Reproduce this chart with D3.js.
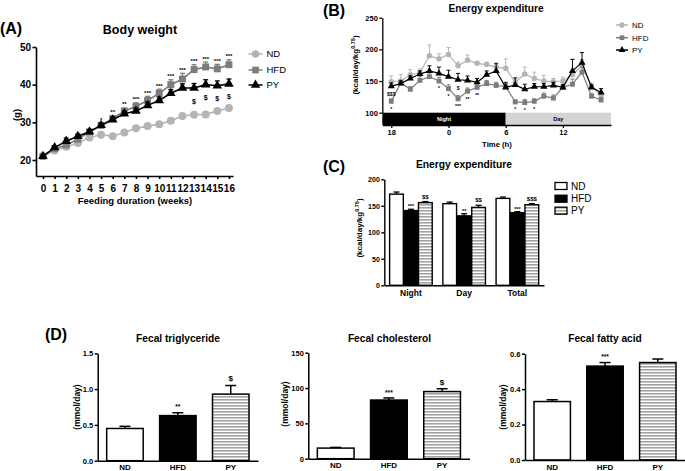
<!DOCTYPE html>
<html><head><meta charset="utf-8">
<script src="https://cdn.jsdelivr.net/npm/d3@7/dist/d3.min.js"></script>
<style>html,body{margin:0;padding:0;background:#fff;}svg{display:block}</style>
</head><body>
<svg id="chart" width="685" height="471"></svg>
<script>
// ================= DATA =================
const groups = ["ND", "HFD", "PY"];

// (A) Body weight
const weeks = [0,1,2,3,4,5,6,7,8,9,10,11,12,13,14,15,16];
const bwTicks = [20,30,40,50];
const bwND  = [21,22.5,23.5,24.5,26,26.7,26.3,27.3,28.4,29,29.5,30.4,31.7,32,32.1,33,33.8];
const bwHFD = [21,23,24,25.5,27.5,29.2,31,33,34.2,35.8,37.7,40,41.5,44,44.7,44.2,45.3];
const bwPY  = [21,23.3,25,26.3,27.5,29.2,30.7,32.3,33,34.5,35.8,37.7,39.1,39.1,40,39.7,40.2];
const bwErrND  = [0.2,0.3,0.3,0.4,0.3,0.3,0.3,0.3,0.3,0.3,0.3,0.3,0.3,0.3,0.3,0.3,0.4];
const bwErrHFD = [0.3,0.4,0.5,0.5,0.5,0.6,0.7,0.8,1.0,1.1,1.1,1.3,1.5,1.3,1.3,1.2,1.3];
const bwErrPY  = [0.3,0.4,0.8,0.6,0.5,0.6,0.7,0.7,0.8,0.9,0.9,1.0,1.1,1.2,1.3,1.3,1.3];
const bwSigHFD = ["","","","","","*","**","**","***","***","***","***","***","***","***","***","***"];
const bwSigPY  = ["","","","","","","","","","","","","","$","$","$","$"];

// (B) Energy expenditure time course
const hours = [18,19,20,21,22,23,0,1,2,3,4,5,6,7,8,9,10,11,12,13,14,15,16];
const eeHourTicks = [18,0,6,12];
const eeTicks = [100,150,200,250];
const eeND   = [149,150,160,163,190,185,192,174,183,178,176,172,170,148,161,154,150,149,150,160,174,141,127];
const eeHFD  = [118,147,137,151,157,150,138,122,134,140,146,143,141,117,116,118,126,123,140,145,164,126,120];
const eePY   = [142,146,154,161,166,162,157,152,151,148,160,166,140,144,137,141,141,143,140,166,179,140,132];
const eeErrND  = [9,10,8,6,17,8,11,6,8,3,4,4,15,5,11,10,9,5,6,25,10,6,5];
const eeErrHFD = [4,4,4,6,6,6,6,5,5,5,5,5,5,3,5,4,5,5,4,8,8,4,4];
const eeErrPY  = [5,4,4,5,8,10,10,10,7,6,6,12,8,11,8,5,5,5,4,18,16,4,6];
const eeSigHFD = ["*","","","","","*","*","***","**","**","","","","*","*","*","","","","","","",""];
const eeSigPY  = ["$$$","","","","","","","$","","","","","","","","","","","","","","",""];

// (C) Energy expenditure by period
const periods = ["Night","Day","Total"];
const eeBarTicks = [0,50,100,150,200];
const eeBarND  = [172,154,164];
const eeBarHFD = [141,131,137];
const eeBarPY  = [156,147,152];
const eeBarErrND  = [4,3,2.5];
const eeBarErrHFD = [2.5,4,2];
const eeBarErrPY  = [2,4,2];
const eeBarSigHFD = ["***","**","***"];
const eeBarSigPY  = ["$$","$$","$$$"];

// (D) Fecal lipids
const tgTicks = [0.0,0.5,1.0,1.5];
const tgValues = [0.45,0.63,0.93];
const tgErr    = [0.03,0.04,0.12];
const tgSig    = ["","**","$"];
const cholTicks = [0,50,100,150];
const cholValues = [15,83,95];
const cholErr    = [1,3,4];
const cholSig    = ["","***","$"];
const faTicks = [0.0,0.2,0.4,0.6];
const faValues = [0.33,0.53,0.55];
const faErr    = [0.01,0.02,0.02];
const faSig    = ["","***",""];

// ================= DRAWING =================
const F = "'Liberation Sans', Arial, Helvetica, sans-serif";
const C_ND = "#b4b4b4", C_HFD = "#7c7c7c", C_PY = "#000";
const svg = d3.select("#chart").attr("font-family", F);
const defs = svg.append("defs");
const pat = defs.append("pattern").attr("id","hatch").attr("patternUnits","userSpaceOnUse")
  .attr("width",4).attr("height",3);
pat.append("rect").attr("width",4).attr("height",3).attr("fill","#fff");
pat.append("rect").attr("width",4).attr("height",1.6).attr("fill","#a2a2a2");
const fills = {ND:"#fff", HFD:"#000", PY:"url(#hatch)"};

function T(g, x, y, s, fs, o = {}) {
  const t = g.append("text").attr("x", x).attr("y", y).attr("dy", o.dy || "0.35em")
    .attr("font-size", fs).attr("font-weight", o.w || "bold")
    .attr("text-anchor", o.a || "middle").attr("fill", o.c || "#000").text(s);
  if (o.rot) t.attr("transform", `rotate(-90,${x},${y})`);
  return t;
}
function sig(g, x, y, s, fs) { // y = visual center of mark
  if (!s) return;
  const star = s.indexOf("*") >= 0;
  g.append("text").attr("x", x).attr("y", y + (star ? 0.58 : 0.36) * fs)
    .attr("font-size", fs).attr("font-weight", "bold").attr("text-anchor", "middle").text(s);
}
function sty(sel, fs, sw) {
  sel.attr("font-family", F);
  sel.select(".domain").attr("stroke", "#000").attr("stroke-width", sw);
  sel.selectAll(".tick line").attr("stroke", "#000").attr("stroke-width", sw);
  sel.selectAll(".tick text").attr("font-size", fs).attr("font-weight", "bold").attr("fill", "#000");
}
function series(g, xs, ys, xv, vals, errs, color, sym, size, lw, capW) {
  vals.forEach((v, i) => {
    if (errs[i] > 0) {
      const x = xs(xv[i]), yt = ys(v + errs[i]);
      g.append("line").attr("x1", x).attr("x2", x).attr("y1", ys(v)).attr("y2", yt)
        .attr("stroke", color).attr("stroke-width", lw * 0.8);
      g.append("line").attr("x1", x - capW / 2).attr("x2", x + capW / 2).attr("y1", yt).attr("y2", yt)
        .attr("stroke", color).attr("stroke-width", lw * 0.8);
    }
  });
  g.append("path").datum(vals).attr("fill", "none").attr("stroke", color).attr("stroke-width", lw)
    .attr("d", d3.line().x((d, i) => xs(xv[i])).y(d => ys(d)));
  g.selectAll(null).data(vals).join("path")
    .attr("transform", (d, i) => `translate(${xs(xv[i])},${ys(d)})`)
    .attr("d", d3.symbol().type(sym).size(size)).attr("fill", color);
}
function legendLine(g, x, y, w, color, sym, size, label, fs) {
  g.append("line").attr("x1", x - w / 2).attr("x2", x + w / 2).attr("y1", y).attr("y2", y)
    .attr("stroke", color).attr("stroke-width", 1.5);
  g.append("path").attr("transform", `translate(${x},${y})`).attr("d", d3.symbol().type(sym).size(size)).attr("fill", color);
  T(g, x + w / 2 + 4, y, label, fs, {a: "start", w: "normal"});
}

// ---------- (A) ----------
{
  const g = svg.append("g");
  const x = d3.scaleLinear().domain([-0.6, 16.35]).range([36, 233]);
  const y = d3.scaleLinear().domain([15.75, 50]).range([176, 47]);
  g.append("g").attr("transform", "translate(0,176)")
    .call(d3.axisBottom(x).tickValues(weeks).tickSize(3).tickSizeOuter(0).tickPadding(6).tickFormat(d3.format("d")))
    .call(s => sty(s, 10, 1.6));
  g.append("g").attr("transform", "translate(36,0)")
    .call(d3.axisLeft(y).tickValues(bwTicks).tickSize(3.5).tickSizeOuter(0).tickPadding(1.5))
    .call(s => sty(s, 10, 1.6));
  series(g, x, y, weeks, bwND, bwErrND, C_ND, d3.symbolCircle, 50, 1.6, 5);
  series(g, x, y, weeks, bwHFD, bwErrHFD, C_HFD, d3.symbolSquare, 48, 1.6, 5);
  series(g, x, y, weeks, bwPY, bwErrPY, C_PY, d3.symbolTriangle, 40, 1.6, 5);
  weeks.forEach((w, i) => {
    sig(g, x(w), y(bwHFD[i] + bwErrHFD[i]) - 5, bwSigHFD[i], 6);
    sig(g, x(w), y(bwPY[i]) + 13, bwSigPY[i], 7);
  });
  T(g, 11, 28, "(A)", 16);
  T(g, 140, 30, "Body weight", 12.5);
  T(g, 17, 115, "(g)", 9.5, {rot: true});
  T(g, 135, 201, "Feeding duration (weeks)", 9.5);
  legendLine(g, 255.5, 54, 14, C_ND, d3.symbolCircle, 45, "ND", 9.5);
  legendLine(g, 255.5, 70, 14, C_HFD, d3.symbolSquare, 45, "HFD", 9.5);
  legendLine(g, 255.5, 85, 14, C_PY, d3.symbolTriangle, 38, "PY", 9.5);
}

// ---------- (B) ----------
{
  const g = svg.append("g");
  const idx = hours.map((h, i) => i);
  const x = d3.scaleLinear().domain([-0.94, 23.04]).range([382.3, 611]);
  const y = d3.scaleLinear().domain([100, 250]).range([112.7, 17.7]);
  g.append("rect").attr("x", x(-0.94)).attr("y", 112.7).attr("width", x(12) - x(-0.94)).attr("height", 12.3).attr("fill", "#000");
  g.append("rect").attr("x", x(12)).attr("y", 112.7).attr("width", x(23.04) - x(12)).attr("height", 12.3).attr("fill", "#d4d4d4");
  T(g, (x(-0.94) + x(12)) / 2, 119, "Night", 5.5, {c: "#fff"});
  T(g, (x(12) + x(23.04)) / 2, 119, "Day", 5.5);
  g.append("g").attr("transform", "translate(0,125)")
    .call(d3.axisBottom(x).tickValues(eeHourTicks.map(h => hours.indexOf(h))).tickFormat(i => hours[i])
      .tickSize(3).tickSizeOuter(0).tickPadding(2))
    .call(s => sty(s, 7.5, 1.3));
  g.append("g").attr("transform", "translate(382.3,0)")
    .call(d3.axisLeft(y).tickValues(eeTicks).tickSize(3).tickSizeOuter(0).tickPadding(1.5))
    .call(s => sty(s, 7.5, 1.3));
  series(g, x, y, idx, eeND, eeErrND, C_ND, d3.symbolCircle, 24, 1.2, 4);
  series(g, x, y, idx, eeHFD, eeErrHFD, C_HFD, d3.symbolSquare, 24, 1.2, 4);
  series(g, x, y, idx, eePY, eePY.map((v, i) => eeErrPY[i]), C_PY, d3.symbolTriangle, 22, 1.2, 4);
  idx.forEach(i => {
    sig(g, x(i), y(eeHFD[i]) + 6.5, eeSigHFD[i], 5);
    sig(g, x(i), y(eePY[i]) + 8, eeSigPY[i], 5);
  });
  T(g, 334, 10, "(B)", 16);
  T(g, 496, 8, "Energy expenditure", 10.2);
  T(g, 497, 144, "Time (h)", 7.7);
  const yl = g.append("text").attr("transform", "translate(357.5,65) rotate(-90)")
    .attr("text-anchor", "middle").attr("font-size", 8).attr("font-weight", "bold");
  yl.append("tspan").text("(kcal/day/kg");
  yl.append("tspan").attr("font-size", 5.5).attr("dy", -3).text("0.75");
  yl.append("tspan").attr("dy", 3).text(")");
  legendLine(g, 622, 25, 12, C_ND, d3.symbolCircle, 22, "ND", 8);
  legendLine(g, 622, 37.7, 12, C_HFD, d3.symbolSquare, 22, "HFD", 8);
  legendLine(g, 622, 50, 12, C_PY, d3.symbolTriangle, 20, "PY", 8);
}

// ---------- (C) ----------
{
  const g = svg.append("g");
  const x = d3.scaleBand().domain(periods).range([384.3, 544]);
  const xi = d3.scaleBand().domain(groups).range([-21.3, 21.3]).paddingInner(0.05);
  const y = d3.scaleLinear().domain([0, 200]).range([285.3, 179.3]);
  const vals = {ND: eeBarND, HFD: eeBarHFD, PY: eeBarPY};
  const errs = {ND: eeBarErrND, HFD: eeBarErrHFD, PY: eeBarErrPY};
  periods.forEach((p, pi) => {
    const cx = x(p) + x.bandwidth() / 2;
    groups.forEach(gr => {
      const bx = cx + xi(gr), bw = xi.bandwidth(), v = vals[gr][pi], e = errs[gr][pi];
      const bxc = bx + bw / 2, yt = y(v + e);
      g.append("line").attr("x1", bxc).attr("x2", bxc).attr("y1", y(v)).attr("y2", yt).attr("stroke", "#000").attr("stroke-width", 1.3);
      g.append("line").attr("x1", bxc - 3).attr("x2", bxc + 3).attr("y1", yt).attr("y2", yt).attr("stroke", "#000").attr("stroke-width", 1.3);
      g.append("rect").attr("x", bx).attr("y", y(v)).attr("width", bw).attr("height", y(0) - y(v))
        .attr("fill", fills[gr]).attr("stroke", "#000").attr("stroke-width", 1.4);
    });
    sig(g, cx + xi("HFD") + xi.bandwidth() / 2, y(eeBarHFD[pi] + eeBarErrHFD[pi]) - 4, eeBarSigHFD[pi], 5.5);
    sig(g, cx + xi("PY") + xi.bandwidth() / 2, y(eeBarPY[pi] + eeBarErrPY[pi]) - 5, eeBarSigPY[pi], 6);
  });
  g.append("g").attr("transform", "translate(0,285.3)")
    .call(d3.axisBottom(x).tickSize(0).tickPadding(5)).call(s => sty(s, 8.5, 1.4));
  g.append("g").attr("transform", "translate(384.3,0)")
    .call(d3.axisLeft(y).tickValues(eeBarTicks).tickSize(3).tickSizeOuter(0).tickPadding(1.5))
    .call(s => sty(s, 7, 1.4));
  T(g, 334, 166, "(C)", 16);
  T(g, 464, 164, "Energy expenditure", 10.3);
  const yl = g.append("text").attr("transform", "translate(361.5,228) rotate(-90)")
    .attr("text-anchor", "middle").attr("font-size", 8).attr("font-weight", "bold");
  yl.append("tspan").text("(kcal/day/kg");
  yl.append("tspan").attr("font-size", 5.5).attr("dy", -3).text("0.75");
  yl.append("tspan").attr("dy", 3).text(")");
  [186, 198.7, 210.7].forEach((ly, i) => {
    g.append("rect").attr("x", 555).attr("y", ly - 3.5).attr("width", 12).attr("height", 7)
      .attr("fill", fills[groups[i]]).attr("stroke", "#000").attr("stroke-width", 1.3);
    T(g, 571, ly, groups[i], 10, {a: "start", w: "normal"});
  });
}

// ---------- (D) ----------
function fecal(cfg) {
  const g = svg.append("g");
  const x = d3.scaleBand().domain(groups).range([cfg.x0, cfg.x1]).paddingInner(0.31).paddingOuter(0.17);
  const y = d3.scaleLinear().domain([0, cfg.max]).range([cfg.y0, cfg.yTop]);
  groups.forEach((gr, i) => {
    const bx = x(gr), bw = x.bandwidth(), v = cfg.values[i], e = cfg.errs[i];
    const bxc = bx + bw / 2, yt = y(v + e);
    g.append("line").attr("x1", bxc).attr("x2", bxc).attr("y1", y(v)).attr("y2", yt).attr("stroke", "#000").attr("stroke-width", 1.5);
    g.append("line").attr("x1", bxc - 5.5).attr("x2", bxc + 5.5).attr("y1", yt).attr("y2", yt).attr("stroke", "#000").attr("stroke-width", 1.5);
    g.append("rect").attr("x", bx).attr("y", y(v)).attr("width", bw).attr("height", y(0) - y(v))
      .attr("fill", fills[gr]).attr("stroke", "#000").attr("stroke-width", 1.5);
    sig(g, bxc, yt - 7, cfg.sigs[i], cfg.sigs[i] === "$" ? 8 : 6.5);
  });
  g.append("g").attr("transform", `translate(0,${cfg.y0})`)
    .call(d3.axisBottom(x).tickSize(0).tickPadding(4)).call(s => sty(s, 8, 1.5));
  g.append("g").attr("transform", `translate(${cfg.x0},0)`)
    .call(d3.axisLeft(y).tickValues(cfg.ticks).tickFormat(cfg.fmt).tickSize(3).tickSizeOuter(0).tickPadding(1.5))
    .call(s => sty(s, 7.5, 1.5));
  T(g, cfg.titleX, 338, cfg.title, 10.2);
  T(g, cfg.labelX, cfg.labelY, "(mmol/day)", 8.5, {rot: true});
}
T(svg, 56, 334, "(D)", 16);
fecal({x0: 97.7, x1: 258, y0: 460.7, yTop: 353.3, max: 1.5, ticks: tgTicks, fmt: d3.format(".1f"),
  values: tgValues, errs: tgErr, sigs: tgSig, title: "Fecal triglyceride", titleX: 178, labelX: 77, labelY: 407});
fecal({x0: 308.3, x1: 469.5, y0: 458.7, yTop: 352.7, max: 150, ticks: cholTicks, fmt: d3.format("d"),
  values: cholValues, errs: cholErr, sigs: cholSig, title: "Fecal cholesterol", titleX: 389.5, labelX: 285, labelY: 404});
fecal({x0: 525, x1: 685, y0: 460, yTop: 353.7, max: 0.6, ticks: faTicks, fmt: d3.format(".1f"),
  values: faValues, errs: faErr, sigs: faSig, title: "Fecal fatty acid", titleX: 605, labelX: 503, labelY: 407});
</script>
</body></html>
